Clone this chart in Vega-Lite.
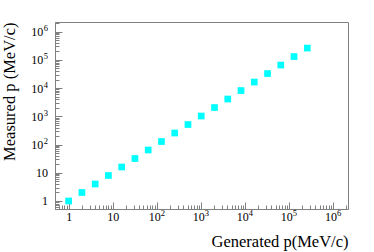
{
  "$schema": "https://vega.github.io/schema/vega-lite/v6.json",
  "autosize": {"type": "none"},
  "width": 293,
  "height": 187,
  "padding": {"left": 55, "top": 22, "right": 26, "bottom": 43},
  "background": "white",
  "config": {
    "view": {"stroke": "#808080", "strokeWidth": 1},
    "font": "Liberation Serif",
    "axis": {
      "grid": false,
      "labelFont": "Liberation Serif",
      "labelColor": "black",
      "labelOverlap": false,
      "labelFlush": false,
      "labelBaseline": "middle",
      "domainColor": "#808080",
      "tickColor": "#808080"
    }
  },
  "data": {
    "values": [
      {"gen": 1, "meas": 1},
      {"gen": 2, "meas": 2},
      {"gen": 4, "meas": 4},
      {"gen": 8, "meas": 8},
      {"gen": 16, "meas": 16},
      {"gen": 32, "meas": 32},
      {"gen": 64, "meas": 64},
      {"gen": 128, "meas": 128},
      {"gen": 256, "meas": 256},
      {"gen": 512, "meas": 512},
      {"gen": 1024, "meas": 1024},
      {"gen": 2048, "meas": 2048},
      {"gen": 4096, "meas": 4096},
      {"gen": 8192, "meas": 8192},
      {"gen": 16384, "meas": 16384},
      {"gen": 32768, "meas": 32768},
      {"gen": 65536, "meas": 65536},
      {"gen": 131072, "meas": 131072},
      {"gen": 262144, "meas": 262144}
    ]
  },
  "layer": [
    {
      "mark": {"type": "point", "opacity": 0},
      "encoding": {
        "x": {
          "field": "gen",
          "type": "quantitative",
          "scale": {"type": "log", "domain": [0.49, 2200000], "nice": false},
          "axis": {
            "orient": "bottom",
            "title": null,
            "labels": false,
            "domain": false,
            "values": [0.6,0.7,0.8,0.9,1,2,3,4,5,6,7,8,9,10,20,30,40,50,60,70,80,90,100,200,300,400,500,600,700,800,900,1000,2000,3000,4000,5000,6000,7000,8000,9000,10000,20000,30000,40000,50000,60000,70000,80000,90000,100000,200000,300000,400000,500000,600000,700000,800000,900000,1000000,2000000],
            "tickSize": {"condition": {"test": "abs(log(datum.value)/LN10 - round(log(datum.value)/LN10)) < 0.001", "value": -7}, "value": -4}
          }
        },
        "y": {
          "field": "meas",
          "type": "quantitative",
          "scale": {"type": "log", "domain": [0.52, 2200000], "nice": false},
          "axis": {
            "orient": "left",
            "title": null,
            "labels": false,
            "domain": false,
            "values": [0.6,0.7,0.8,0.9,1,2,3,4,5,6,7,8,9,10,20,30,40,50,60,70,80,90,100,200,300,400,500,600,700,800,900,1000,2000,3000,4000,5000,6000,7000,8000,9000,10000,20000,30000,40000,50000,60000,70000,80000,90000,100000,200000,300000,400000,500000,600000,700000,800000,900000,1000000,2000000],
            "tickSize": {"condition": {"test": "abs(log(datum.value)/LN10 - round(log(datum.value)/LN10)) < 0.001", "value": -7}, "value": -4}
          }
        }
      }
    },
    {
      "mark": {"type": "point", "opacity": 0},
      "encoding": {
        "x": {
          "field": "gen",
          "type": "quantitative",
          "axis": {
            "orient": "bottom",
            "title": null,
            "ticks": false,
            "domain": false,
            "values": [100, 1000, 10000, 100000, 1000000],
            "labelExpr": "'10'",
            "labelFontSize": 12,
            "labelPadding": 7.7,
            "labelOffset": -2.5
          }
        },
        "y": {
          "field": "meas",
          "type": "quantitative",
          "axis": {
            "orient": "left",
            "title": null,
            "ticks": false,
            "domain": false,
            "values": [100, 1000, 10000, 100000, 1000000],
            "labelExpr": "'10'",
            "labelFontSize": 12,
            "labelAlign": "right",
            "labelPadding": 12.3
          }
        }
      }
    },
    {
      "mark": {"type": "point", "opacity": 0},
      "encoding": {
        "x": {
          "field": "gen",
          "type": "quantitative",
          "axis": {
            "orient": "bottom",
            "title": null,
            "ticks": false,
            "domain": false,
            "values": [100, 1000, 10000, 100000, 1000000],
            "labelExpr": "'' + round(log(datum.value)/LN10)",
            "labelFontSize": 8.5,
            "labelAlign": "left",
            "labelPadding": 3.7,
            "labelOffset": 3.5
          }
        },
        "y": {
          "field": "meas",
          "type": "quantitative",
          "axis": {
            "orient": "left",
            "title": null,
            "ticks": false,
            "domain": false,
            "values": [100, 1000, 10000, 100000, 1000000],
            "labelExpr": "'' + round(log(datum.value)/LN10)",
            "labelFontSize": 8.5,
            "labelAlign": "right",
            "labelPadding": 7.5,
            "labelOffset": -4
          }
        }
      }
    },
    {
      "mark": {"type": "square", "color": "#00ffff", "opacity": 1, "size": 45},
      "encoding": {
        "x": {
          "field": "gen",
          "type": "quantitative",
          "axis": {
            "orient": "bottom",
            "title": "Generated p(MeV/c)",
            "titleFont": "Liberation Serif",
            "titleFontSize": 16.5,
            "titleFontWeight": "normal",
            "titleColor": "black",
            "titleX": 293,
            "titleY": 32,
            "titleAlign": "right",
            "titleBaseline": "middle",
            "ticks": false,
            "values": [1, 10],
            "labelExpr": "datum.value < 5 ? '1' : '10'",
            "labelFontSize": 12,
            "labelPadding": 7.7
          }
        },
        "y": {
          "field": "meas",
          "type": "quantitative",
          "axis": {
            "orient": "left",
            "title": "Measured p (MeV/c)",
            "titleFont": "Liberation Serif",
            "titleFontSize": 16.5,
            "titleFontWeight": "normal",
            "titleColor": "black",
            "titleX": -46,
            "titleY": 0,
            "titleAngle": -90,
            "titleAlign": "right",
            "titleBaseline": "middle",
            "ticks": false,
            "values": [1, 10],
            "labelExpr": "datum.value < 5 ? '1' : '10'",
            "labelFontSize": 12,
            "labelAlign": "right",
            "labelPadding": 7.5
          }
        }
      }
    }
  ],
  "resolve": {"axis": {"x": "independent", "y": "independent"}}
}
